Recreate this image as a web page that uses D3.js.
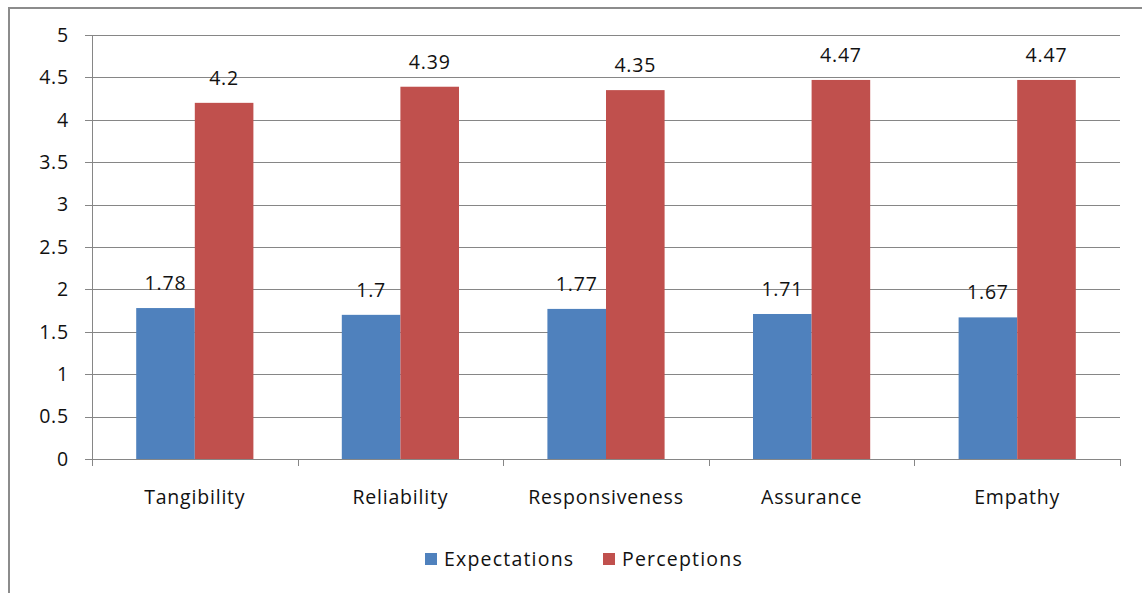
<!DOCTYPE html>
<html>
<head>
<meta charset="utf-8">
<script src="https://cdn.jsdelivr.net/npm/d3@7"></script>
<style>
  html, body { margin: 0; padding: 0; background: #fff; }
  svg { display: block; }
  text { font-family: "Open Sans", sans-serif; fill: #111; letter-spacing: 0.8px; }
  .legend text { letter-spacing: 1.2px; }
</style>
</head>
<body>
<svg id="chart" width="1142" height="593"></svg>
<script>
// Service-quality dimensions and mean scores
const categories = ["Tangibility", "Reliability", "Responsiveness", "Assurance", "Empathy"];
const seriesNames = ["Expectations", "Perceptions"];
const expectations = [1.78, 1.7, 1.77, 1.71, 1.67];
const perceptions = [4.2, 4.39, 4.35, 4.47, 4.47];
const yTicks = [0, 0.5, 1, 1.5, 2, 2.5, 3, 3.5, 4, 4.5, 5];
const colors = ["#4F81BD", "#C0504D"];

const svg = d3.select("#chart");
const W = 1142, H = 593;
const fontSize = 19.5;

// Outer chart frame
svg.append("rect")
  .attr("x", 9).attr("y", 8)
  .attr("width", W + 10).attr("height", H + 10)
  .attr("fill", "#fff").attr("stroke", "#8c8c8c").attr("stroke-width", 2);

const plot = { left: 92, right: 1120, top: 35, bottom: 459 };

const x = d3.scaleBand().domain(categories).range([plot.left, plot.right]).paddingInner(0).paddingOuter(0);
const y = d3.scaleLinear().domain([0, 5]).range([plot.bottom, plot.top]);
const groupWidth = x.bandwidth() * 0.57;
const xs = d3.scaleBand().domain(seriesNames).range([0, groupWidth]);

// Horizontal gridlines
svg.append("g").selectAll("line").data(yTicks).join("line")
  .attr("x1", plot.left - 7).attr("x2", plot.right)
  .attr("y1", d => Math.round(y(d)) + 0.5).attr("y2", d => Math.round(y(d)) + 0.5)
  .attr("stroke", "#868686").attr("stroke-width", 1);

// Y axis labels
svg.append("g").selectAll("text").data(yTicks).join("text")
  .attr("x", plot.left - 23).attr("y", d => y(d))
  .attr("dy", "0.35em").attr("text-anchor", "end")
  .attr("font-size", fontSize)
  .text(d => d);

// Y axis line
svg.append("line")
  .attr("x1", plot.left + 0.5).attr("x2", plot.left + 0.5)
  .attr("y1", plot.top).attr("y2", plot.bottom)
  .attr("stroke", "#868686");

// Bars
const rows = categories.map((c, i) => ({ c, vals: [expectations[i], perceptions[i]] }));
const groups = svg.append("g").selectAll("g").data(rows).join("g")
  .attr("transform", d => `translate(${x(d.c) + (x.bandwidth() - groupWidth) / 2},0)`);

groups.selectAll("rect").data(d => d.vals.map((v, j) => ({ v, s: seriesNames[j], j }))).join("rect")
  .attr("x", d => xs(d.s)).attr("width", xs.bandwidth())
  .attr("y", d => y(d.v)).attr("height", d => y(0) - y(d.v))
  .attr("fill", d => colors[d.j]);

// Value labels
groups.selectAll("text").data(d => d.vals.map((v, j) => ({ v, s: seriesNames[j] }))).join("text")
  .attr("x", d => xs(d.s) + xs.bandwidth() / 2)
  .attr("y", d => y(d.v) - 18)
  .attr("text-anchor", "middle")
  .attr("font-size", fontSize)
  .text(d => d.v);

// X axis line and category ticks
svg.append("line")
  .attr("x1", plot.left).attr("x2", plot.right)
  .attr("y1", plot.bottom + 0.5).attr("y2", plot.bottom + 0.5)
  .attr("stroke", "#868686");
const tickPositions = categories.map(c => x(c)).concat([plot.right]);
svg.append("g").selectAll("line").data(tickPositions).join("line")
  .attr("x1", d => Math.round(d) + 0.5).attr("x2", d => Math.round(d) + 0.5)
  .attr("y1", plot.bottom).attr("y2", plot.bottom + 7)
  .attr("stroke", "#868686");

// Category labels
svg.append("g").selectAll("text").data(categories).join("text")
  .attr("x", d => x(d) + x.bandwidth() / 2)
  .attr("y", 504)
  .attr("text-anchor", "middle")
  .attr("font-size", fontSize)
  .text(d => d);

// Legend
const legend = svg.append("g").attr("class", "legend");
const legendX = [425, 603];
seriesNames.forEach((name, i) => {
  legend.append("rect")
    .attr("x", legendX[i]).attr("y", 553)
    .attr("width", 12).attr("height", 12)
    .attr("fill", colors[i]);
  legend.append("text")
    .attr("x", legendX[i] + 19).attr("y", 566)
    .attr("font-size", fontSize)
    .text(name);
});
</script>
</body>
</html>
